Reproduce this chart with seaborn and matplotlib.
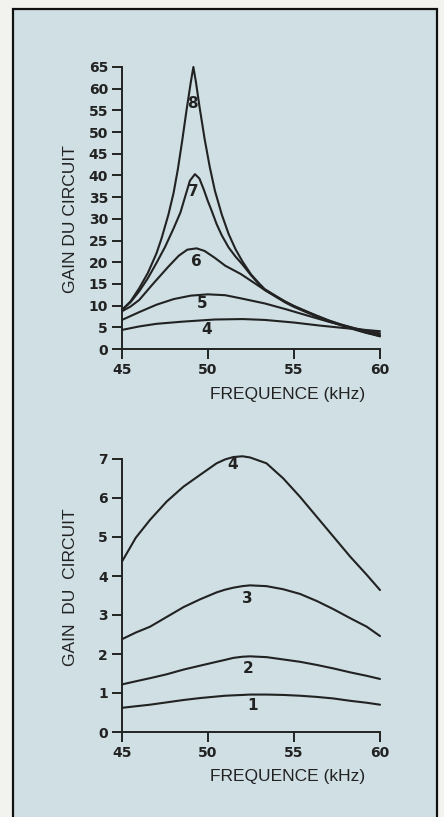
import pandas as pd
import seaborn as sns
import matplotlib.pyplot as plt
from matplotlib.patches import Rectangle

# Top chart: gain curves 4..8 (kHz, gain)
top_f8 = [45, 45.5, 46, 46.5, 47, 47.3, 47.7, 48, 48.25, 48.5, 48.75, 49.0, 49.15,
          49.3, 49.5, 49.8, 50.1, 50.4, 50.8, 51.2, 51.6, 52.0, 52.5, 53.0, 53.3,
          54, 54.5, 55, 55.7, 56.3, 57, 57.7, 58.5, 59.2, 60]
top_g8 = [9, 11, 14, 17.5, 22, 25.5, 31, 36, 41.5, 48, 55, 61.5, 65,
          61.5, 56, 48.5, 42, 36.5, 31, 26.5, 23, 20.2, 17.2, 15, 13.8,
          12.1, 10.9, 9.9, 8.7, 7.7, 6.6, 5.6, 4.6, 3.8, 2.9]
top_f7 = [45, 45.5, 46, 46.5, 47, 47.5, 48, 48.4, 48.7, 48.95, 49.24,
          49.5, 49.75, 50, 50.2, 50.5, 50.8, 51.2, 51.6, 52.0, 52.5, 53.0, 53.3,
          54, 54.5, 55, 55.7, 56.3, 57, 57.7, 58.5, 59.2, 60]
top_g7 = [9, 10.8, 13.3, 16.3, 19.8, 23.5, 27.8, 31.5, 35.5, 38.8, 40.3,
          39.3, 36.8, 34, 32, 28.8, 26.2, 23.4, 21.3, 19.5, 17, 14.8, 13.6,
          11.9, 10.7, 9.7, 8.5, 7.5, 6.4, 5.5, 4.5, 3.7, 3.0]
top_f6 = [45, 45.5, 46, 46.8, 47.7, 48.3, 48.8, 49.34, 49.8, 50.4, 51.0, 51.9,
          52.7, 53.3, 54, 54.5, 55, 55.7, 56.3, 57, 57.7, 58.5, 59.2, 60]
top_g6 = [8.7, 9.8, 11.3, 15, 19, 21.5, 22.9, 23.2, 22.6, 21, 19.2, 17.3,
          15.2, 13.6, 12, 10.9, 9.9, 8.7, 7.7, 6.6, 5.7, 4.8, 4.0, 3.2]
top_f5 = [45, 46, 47, 48, 49, 50, 51, 52, 53.3, 54.5, 55.7, 57, 58.5, 60]
top_g5 = [6.7, 8.5, 10.2, 11.5, 12.3, 12.6, 12.4, 11.6, 10.5, 9.2, 7.8, 6.3, 4.8, 3.6]
top_f4 = [45, 46, 47, 48.5, 50.4, 52, 53.3, 55, 56.5, 58, 60]
top_g4 = [4.4, 5.2, 5.8, 6.3, 6.8, 6.9, 6.7, 6.1, 5.4, 4.8, 4.1]

# Bottom chart: gain curves 1..4
bot_f = [45, 45.8, 46.63, 47.6, 48.57, 49.53, 50.5, 51.0, 51.47, 52.0, 52.44, 53.4, 54.38,
         55.35, 56.32, 57.29, 58.26, 59.23, 60]
bot_g4 = [4.37, 4.98, 5.44, 5.91, 6.29, 6.59, 6.89, 6.99, 7.05, 7.07, 7.04, 6.89, 6.5,
          6.03, 5.52, 5.01, 4.5, 4.03, 3.64]
bot_g3 = [2.38, 2.55, 2.7, 2.95, 3.2, 3.4, 3.58, 3.65, 3.7, 3.74, 3.76, 3.74, 3.66,
          3.54, 3.36, 3.15, 2.92, 2.7, 2.46]
bot_g2 = [1.22, 1.3, 1.38, 1.48, 1.6, 1.7, 1.8, 1.85, 1.9, 1.93, 1.94, 1.92, 1.86,
          1.8, 1.72, 1.63, 1.53, 1.44, 1.36]
bot_g1 = [0.62, 0.66, 0.7, 0.76, 0.82, 0.87, 0.91, 0.93, 0.94, 0.95, 0.96, 0.96, 0.95,
          0.93, 0.9, 0.86, 0.8, 0.75, 0.7]

# curve number labels (text, x, y)
top_labels = [('8', 49.1, 56.7), ('7', 49.15, 36.2), ('6', 49.35, 20.1),
              ('5', 49.65, 10.6), ('4', 49.9, 4.4)]
bot_labels = [('4', 51.45, 6.85), ('3', 52.27, 3.43), ('2', 52.35, 1.64), ('1', 52.6, 0.69)]

top_yticks = list(range(0, 70, 5))
bot_yticks = list(range(0, 8))
xticks = [45, 50, 55, 60]

ink = '#222222'
bg = '#cfdfe4'

def long_df(pairs):
    rows = []
    for name, f, g in pairs:
        rows += [{'curve': name, 'f': a, 'g': b} for a, b in zip(f, g)]
    return pd.DataFrame(rows)

df_top = long_df([('8', top_f8, top_g8), ('7', top_f7, top_g7), ('6', top_f6, top_g6),
                  ('5', top_f5, top_g5), ('4', top_f4, top_g4)])
df_bot = long_df([('4', bot_f, bot_g4), ('3', bot_f, bot_g3),
                  ('2', bot_f, bot_g2), ('1', bot_f, bot_g1)])

sns.set_style('white')
plt.rcParams['font.family'] = ['Liberation Sans', 'DejaVu Sans']

fig = plt.figure(figsize=(4.44, 8.17), dpi=100, facecolor='#f2f2ef')
fig.patches.append(Rectangle((13 / 444, -0.02), 424 / 444, 1 - 9 / 817 + 0.02,
                             transform=fig.transFigure, facecolor=bg,
                             edgecolor='#111111', linewidth=1.6, zorder=-10))

ax1 = fig.add_axes([122 / 444, 1 - 349 / 817, 258 / 444, 282 / 817])
ax2 = fig.add_axes([122 / 444, 1 - 732 / 817, 258 / 444, 273 / 817])

def style(ax, df, yticks, labels, ymax, lab_y, ylab):
    ax.set_facecolor('none')
    ax.patch.set_alpha(0)
    sns.lineplot(data=df, x='f', y='g', units='curve', estimator=None, color=ink,
                 linewidth=1.5, ax=ax, legend=False)
    for ln in ax.lines:
        ln.set_clip_on(False)
        ln.set_solid_joinstyle('round')
    ax.set_xlim(45, 60)
    ax.set_ylim(0, ymax)
    ax.set_xticks(xticks)
    ax.set_yticks(yticks)
    ax.set_xticklabels([str(t) for t in xticks], family='DejaVu Sans',
                       fontweight='bold', fontsize=10, color=ink)
    ax.set_yticklabels([str(t) for t in yticks], family='DejaVu Sans',
                       fontweight='bold', fontsize=10, color=ink)
    sns.despine(ax=ax)
    for s in ('left', 'bottom'):
        ax.spines[s].set_color(ink)
        ax.spines[s].set_linewidth(1.4)
    ax.tick_params(axis='both', direction='out', length=7, width=1.4, color=ink, pad=3,
                   left=True, bottom=True)
    ax.set_xlabel('FREQUENCE (kHz)', fontsize=12.5, color=ink)
    ax.xaxis.set_label_coords(0.64, -0.135)
    ax.xaxis.label.set_va('top')
    ax.set_ylabel(ylab, fontsize=12.5, color=ink)
    ax.yaxis.set_label_coords(-0.198, lab_y)
    ax.yaxis.label.set(va='center', ha='center', rotation_mode='anchor')
    for t, x, y in labels:
        ax.text(x, y, t, ha='center', va='center', fontsize=11, fontweight='bold',
                family='DejaVu Sans', color=ink)

style(ax1, df_top, top_yticks, top_labels, 65, 0.461, 'GAIN DU CIRCUIT')
style(ax2, df_bot, bot_yticks, bot_labels, 7, 0.531, 'GAIN  DU  CIRCUIT')

fig.savefig('out.png', dpi=100, facecolor=fig.get_facecolor())
